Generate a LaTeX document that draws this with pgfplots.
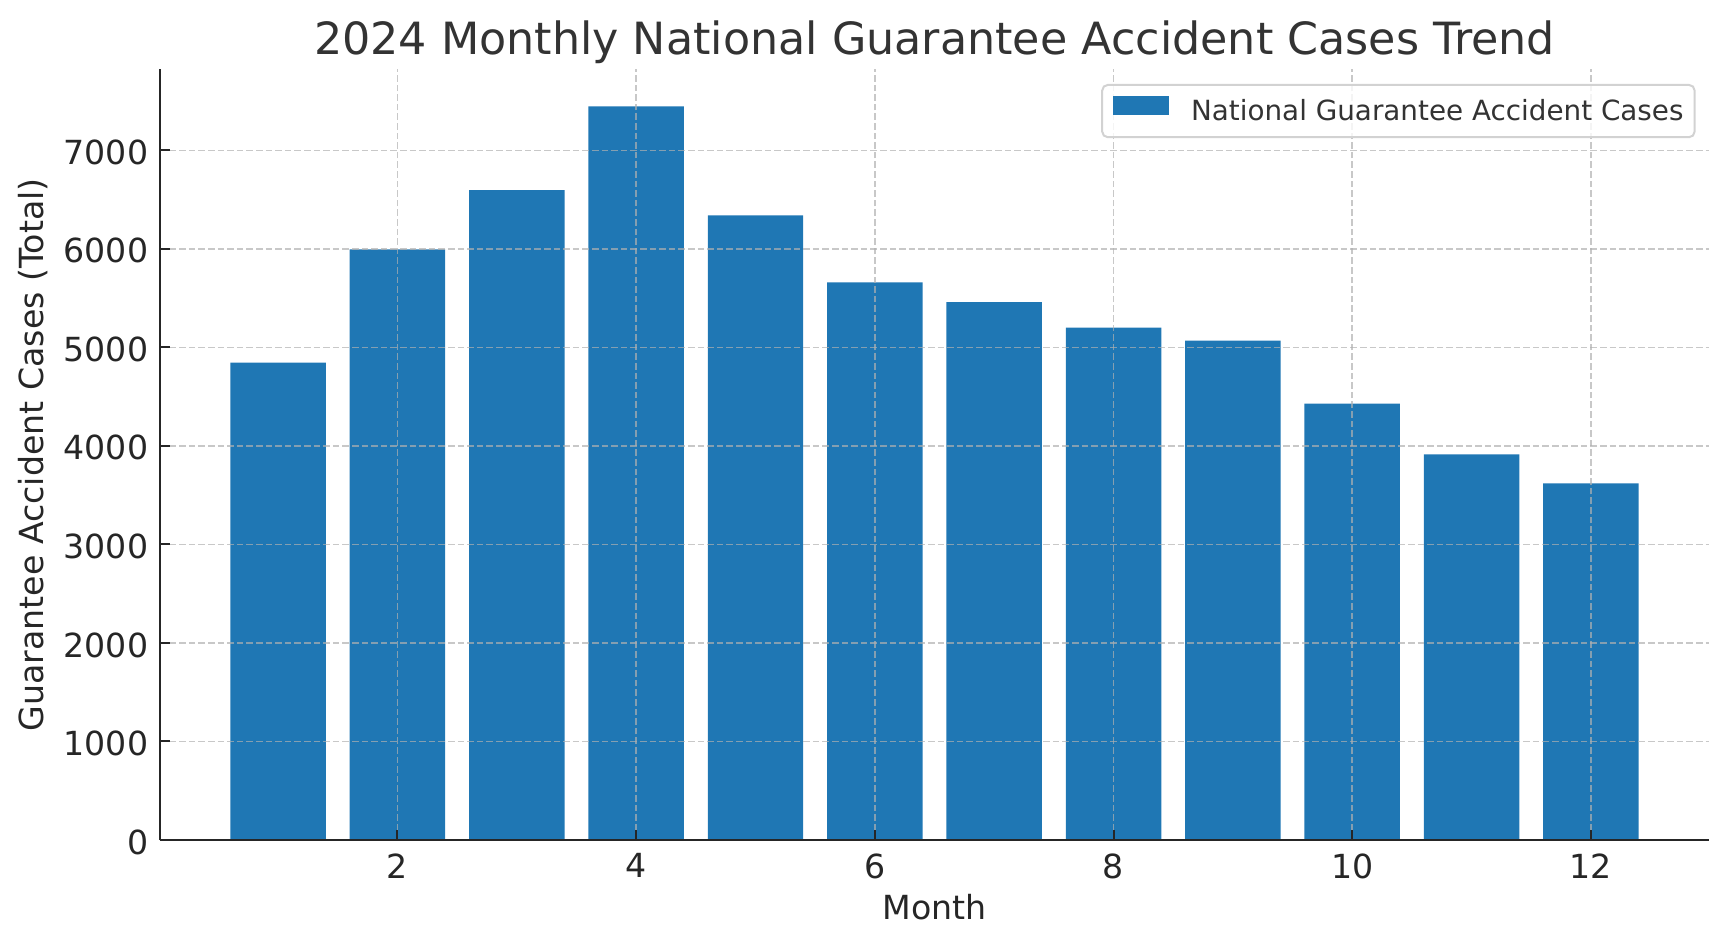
\documentclass[border=0pt]{standalone}
\usepackage{fontspec}
\setmainfont{DejaVu Sans}
\usepackage{pgfplots}
\usepackage{pgfplotstable}
\pgfplotsset{compat=1.18}
\usetikzlibrary{calc}
\definecolor{c1}{HTML}{1F77B4}
\definecolor{gridc}{HTML}{B0B0B0}
\definecolor{spinec}{HTML}{262626}
\definecolor{titlec}{HTML}{333333}
\definecolor{legc}{HTML}{D2D2D2}
\pgfplotstableread{
m v
1 4845
2 5995
3 6595
4 7445
5 6340
6 5660
7 5460
8 5200
9 5068
10 4428
11 3915
12 3620
}\datatable
\begin{document}
\begin{tikzpicture}
\begin{axis}[
  scale only axis, width=774.5pt, height=385.25pt,
  xmin=0.01, xmax=12.99, ymin=0, ymax=7820,
  axis lines*=left,
  axis on top,
  xtick={2,4,...,12}, ytick={0,1000,...,7000},
  scaled y ticks=false,
  /pgf/number format/assume math mode=true,
  /pgf/number format/1000 sep={},
  tick align=inside,
  major tick length=4.8pt,
  tick style={line width=1pt, draw=spinec},
  axis line style={line width=1.1pt, draw=spinec},
  grid=major,
  major grid style={draw=gridc, draw opacity=0.7, line width=0.7pt, dash pattern=on 3.3pt off 1.5pt},
  ticklabel style={font=\fontsize{16.6}{20}\selectfont, text=spinec, inner sep=0pt},
  xticklabel style={anchor=north, yshift=-6.6pt},
  yticklabel style={anchor=east, xshift=-5.7pt, yshift=-1pt},
  every axis title shift=0pt,
  title={2024 Monthly National Guarantee Accident Cases Trend},
  title style={at={(axis description cs:0.5,1.01882)}, anchor=base, inner sep=0pt, font=\fontsize{22.2}{26}\selectfont, text=titlec},
  xlabel={Month},
  xlabel style={at={(axis description cs:0.5,-0.10305)}, anchor=base, inner sep=0pt, font=\fontsize{16.6}{20}\selectfont, text=spinec},
  ylabel={Guarantee Accident Cases (Total)},
  ylabel style={at={(axis description cs:-0.07489,0.5)}, rotate=0, anchor=base, inner sep=0pt, font=\fontsize{16.6}{20}\selectfont, text=spinec},
  legend style={at={(1,1)}, anchor=north east, xshift=-6.7pt, yshift=-7.2pt,
    draw=legc, line width=1pt, rounded corners=2.8pt, fill=white, fill opacity=0.8, text opacity=1, draw opacity=1,
    inner xsep=5.56pt, inner ysep=5.56pt, font=\fontsize{13.9}{16}\selectfont, text=titlec,
    nodes={inner sep=0pt, text height=10.2pt, text depth=2.7pt}},
  legend image code/.code={\fill[c1, fill opacity=1, sharp corners] (0pt,-1.0pt) rectangle (27.8pt,8.6pt); \path (38.9pt,0pt);},
]
\addplot[ybar, bar width=0.8, bar shift=0pt, fill=c1, draw=none] table[x=m, y=v] {\datatable};
\addlegendentry{National Guarantee Accident Cases}
\end{axis}
\pgfresetboundingbox
\useasboundingbox ($(current axis.south west)+(-80pt,-53.5pt)$) rectangle ($(current axis.north east)+(9.5pt,34.75pt)$);
\end{tikzpicture}
\end{document}
